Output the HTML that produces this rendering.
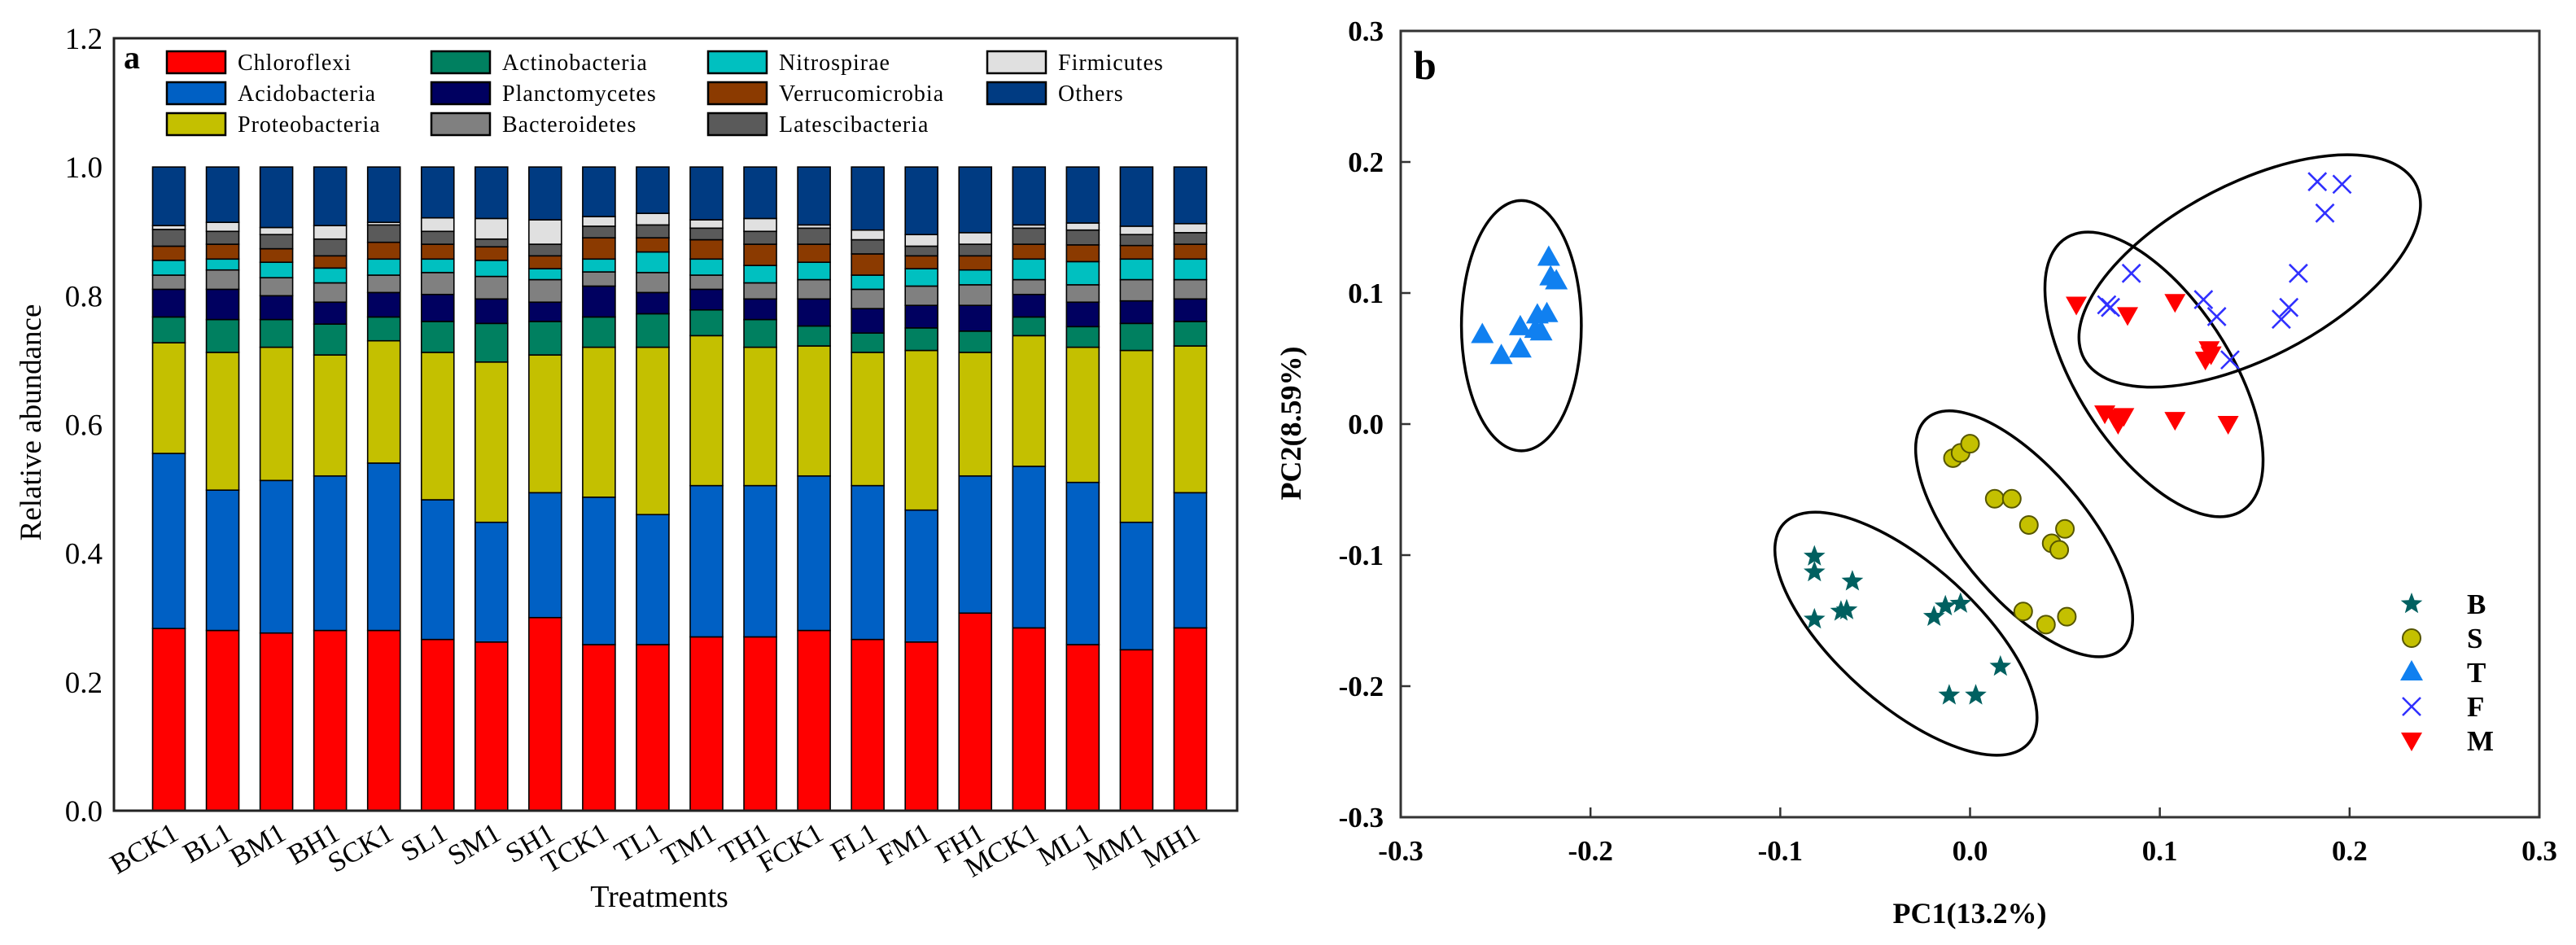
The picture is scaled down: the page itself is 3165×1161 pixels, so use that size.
<!DOCTYPE html>
<html><head><meta charset="utf-8"><style>
body{margin:0;background:#fff}
svg{display:block}
text{font-family:"Liberation Serif",serif}
</style></head><body>
<svg id="fig" width="3165" height="1161" viewBox="0 0 3165 1161" xmlns="http://www.w3.org/2000/svg">
<g id="chartA"></g>
<g id="chartB"></g>
</svg>
<script>
const NS="http://www.w3.org/2000/svg";
function mk(tag,attrs,parent){const e=document.createElementNS(NS,tag);for(const k in attrs)e.setAttribute(k,attrs[k]);parent.appendChild(e);return e;}

// ---------- Chart A data ----------
const treatments=["BCK1","BL1","BM1","BH1","SCK1","SL1","SM1","SH1","TCK1","TL1","TM1","TH1","FCK1","FL1","FM1","FH1","MCK1","ML1","MM1","MH1"];
const phyla=["Chloroflexi","Acidobacteria","Proteobacteria","Actinobacteria","Planctomycetes","Bacteroidetes","Nitrospirae","Verrucomicrobia","Latescibacteria","Firmicutes","Others"];
const phylaColors=["#ff0000","#0060c4","#c4c000","#008060","#000060","#808080","#00c0c0","#8b3a00","#5a5a5a","#e0e0e0","#003b82"];
const chloroflexi=[.283,.28,.276,.28,.28,.266,.262,.30,.258,.258,.27,.27,.28,.266,.262,.307,.284,.258,.25,.284];
const acidobacteria=[.272,.218,.237,.24,.26,.217,.186,.194,.229,.202,.235,.235,.24,.239,.205,.213,.251,.252,.198,.21];
const proteobacteria=[.172,.214,.207,.188,.19,.229,.249,.214,.233,.26,.233,.215,.202,.207,.248,.192,.203,.21,.267,.228];
const actinobacteria=[.040,.051,.043,.048,.037,.048,.06,.052,.047,.052,.04,.043,.031,.03,.035,.033,.029,.032,.042,.038];
const planctomycetes=[.043,.047,.037,.034,.038,.042,.038,.03,.048,.033,.032,.032,.042,.038,.035,.04,.035,.038,.035,.035];
const bacteroidetes=[.022,.03,.028,.03,.027,.034,.035,.035,.022,.031,.022,.025,.03,.03,.03,.032,.023,.027,.033,.03];
const nitrospirae=[.023,.017,.024,.023,.025,.021,.025,.017,.02,.032,.025,.027,.027,.022,.027,.023,.032,.036,.032,.032];
const verrucomicrobia=[.022,.023,.021,.019,.026,.023,.021,.02,.033,.022,.03,.033,.028,.033,.02,.022,.023,.026,.021,.023];
const latescibacteria=[.026,.02,.022,.026,.027,.02,.012,.018,.018,.02,.018,.02,.025,.022,.015,.018,.025,.023,.017,.018];
const firmicutes=[.006,.014,.011,.021,.004,.021,.032,.038,.015,.018,.013,.02,.005,.015,.018,.018,.005,.011,.013,.014];
const others=[.091,.086,.094,.091,.086,.079,.08,.082,.077,.072,.082,.08,.09,.098,.105,.102,.09,.087,.092,.088];
const seriesA=[chloroflexi,acidobacteria,proteobacteria,actinobacteria,planctomycetes,bacteroidetes,nitrospirae,verrucomicrobia,latescibacteria,firmicutes,others];
const yTicksA=["0.0","0.2","0.4","0.6","0.8","1.0","1.2"];
const yTickValsA=[0,0.2,0.4,0.6,0.8,1.0,1.2];

// ---------- Chart B data ----------
const groupNames=["B","S","T","F","M"];
const bX=[-0.082,-0.082,-0.062,-0.082,-0.068,-0.065,-0.019,-0.013,-0.005,0.016,-0.011,0.003];
const bY=[-0.101,-0.113,-0.120,-0.149,-0.143,-0.142,-0.147,-0.139,-0.137,-0.185,-0.207,-0.207];
const sX=[-0.009,-0.005,0.0,0.013,0.022,0.031,0.05,0.043,0.047,0.028,0.04,0.051];
const sY=[-0.026,-0.022,-0.015,-0.057,-0.057,-0.077,-0.080,-0.091,-0.096,-0.143,-0.153,-0.147];
const tX=[-0.257,-0.247,-0.237,-0.237,-0.229,-0.228,-0.223,-0.222,-0.221,-0.218,-0.226];
const tY=[0.068,0.052,0.057,0.074,0.072,0.083,0.084,0.127,0.112,0.109,0.070];
const fX=[0.183,0.196,0.187,0.085,0.173,0.072,0.074,0.123,0.130,0.164,0.168,0.137];
const fY=[0.185,0.183,0.161,0.115,0.115,0.091,0.089,0.095,0.082,0.080,0.089,0.049];
const mX=[0.056,0.083,0.108,0.126,0.124,0.127,0.071,0.076,0.081,0.078,0.108,0.136];
const mY=[0.091,0.083,0.093,0.057,0.049,0.053,0.008,0.005,0.006,0.000,0.003,0.000];
const pcTicks=["-0.3","-0.2","-0.1","0.0","0.1","0.2","0.3"];
const pcTickVals=[-0.3,-0.2,-0.1,0,0.1,0.2,0.3];

// ---------- Chart A drawing ----------
(function(){
const g=document.getElementById('chartA');
const L=140,R=1520,T=47,B=996;
const yA=v=>B-v/1.2*(B-T);
const x0=207.5,step=66.05,bw=40;
const xA=i=>x0+i*step;
// bars
seriesA.forEach((s,si)=>{
  const sg=mk('g',{},g);
  
  
  s.forEach((v,i)=>{
    let base=0;for(let k=0;k<si;k++)base+=seriesA[k][i];
    const y1=yA(base+v),y0=yA(base);
    const r=mk('rect',{x:xA(i)-bw/2,y:y1,width:bw,height:Math.max(0,y0-y1),fill:phylaColors[si],stroke:'#000','stroke-width':1.6},sg);
    
    
  });
});
const fr=mk('rect',{x:L,y:T,width:R-L,height:B-T,fill:'none',stroke:'#222','stroke-width':3},g);


yTickValsA.forEach((v,i)=>{
  const t=mk('text',{x:L-14,y:yA(v)+13,'text-anchor':'end','font-size':37},g);
  t.textContent=yTicksA[i];
  
  
});
treatments.forEach((n,i)=>{
  const x=xA(i)+14,y=1030;
  const t=mk('text',{x:x,y:y,'text-anchor':'end','font-size':35,transform:`rotate(-30 ${x} ${y})`},g);
  t.textContent=n;
  
  
});
const xt=mk('text',{x:810,y:1114,'text-anchor':'middle','font-size':38},g);
xt.textContent='Treatments';


const yt=mk('text',{x:50,y:519,'text-anchor':'middle','font-size':37,transform:'rotate(-90 50 519)'},g);
yt.textContent='Relative abundance';


const pl=mk('text',{x:152,y:84,'font-size':40,'font-weight':'bold'},g);
pl.textContent='a';


// legend
const cols=[205,530,870,1213],rows=[63,101,139];
const order=[[0,0],[1,0],[2,0],[0,1],[1,1],[2,1],[0,2],[1,2],[2,2],[0,3],[1,3]];
const lg=mk('g',{},g);


order.forEach((rc,si)=>{
  const e=mk('g',{},lg);
  
  
  const x=cols[rc[1]],y=rows[rc[0]];
  mk('rect',{x:x,y:y,width:72,height:27,fill:phylaColors[si],stroke:'#000','stroke-width':2.5},e);
  const t=mk('text',{x:x+87,y:y+23,'font-size':28,'letter-spacing':1},e);
  t.textContent=phyla[si];
});
})();

// ---------- Chart B drawing ----------
(function(){
const g=document.getElementById('chartB');
const L=1721,R=3120,T=38,B=1004;
const xB=v=>L+(v+0.3)/0.6*(R-L);
const yB=v=>B-(v+0.3)/0.6*(B-T);
// ellipses (pixel geometry measured in a helper frame)
const eg=mk('g',{transform:'matrix(1.0227 0 0 0.7391 1560.4 2.5)'},g);


[[302,538,72,208,0,'T'],[764,1050,237,97,55,'B'],[906,884,227,85,62,'S'],[1062,619,252,98,68,'M'],[1177,447,250,130,-42,'F']].forEach(p=>{
  const e=mk('ellipse',{cx:0,cy:0,rx:p[2],ry:p[3],transform:`translate(${p[0]} ${p[1]}) rotate(${p[4]})`,fill:'none',stroke:'#000','stroke-width':3.5,'vector-effect':'non-scaling-stroke'},eg);
  
  
});
function star(x,y,r,par,col){
  let pts=[];for(let k=0;k<10;k++){const a=-Math.PI/2+k*Math.PI/5;const rr=k%2?r*0.42:r;pts.push((x+rr*Math.cos(a)).toFixed(1)+','+(y+rr*Math.sin(a)).toFixed(1));}
  return mk('polygon',{points:pts.join(' '),fill:col},par);
}
function marker(type,x,y,par){
  if(type==='B')return star(x,y,14,par,'#006060');
  if(type==='S')return mk('circle',{cx:x,cy:y,r:11,fill:'#c4c000',stroke:'#555500','stroke-width':2},par);
  if(type==='T')return mk('polygon',{points:`${x},${y-15} ${x-14},${y+10} ${x+14},${y+10}`,fill:'#1080f0'},par);
  if(type==='F'){const gg=mk('g',{stroke:'#3030ff','stroke-width':2.6},par);mk('line',{x1:x-11,y1:y-11,x2:x+11,y2:y+11},gg);mk('line',{x1:x-11,y1:y+11,x2:x+11,y2:y-11},gg);return gg;}
  return mk('polygon',{points:`${x},${y+13} ${x-13},${y-10} ${x+13},${y-10}`,fill:'#ff0000'},par);
}
const groups=[[bX,bY],[sX,sY],[tX,tY],[fX,fY],[mX,mY]];
groups.forEach((gr,gi)=>{
  const sg=mk('g',{},g);
  
  
  gr[0].forEach((v,i)=>{
    const m=marker(groupNames[gi],xB(v),yB(gr[1][i]),sg);
    
    
  });
});
const fr=mk('rect',{x:L,y:T,width:R-L,height:B-T,fill:'none',stroke:'#333','stroke-width':3},g);


pcTickVals.forEach((v,i)=>{
  if(i>0&&i<6){
    mk('line',{x1:xB(v),y1:B,x2:xB(v),y2:B-12,stroke:'#333','stroke-width':2.5},g);
    mk('line',{x1:L,y1:yB(v),x2:L+12,y2:yB(v),stroke:'#333','stroke-width':2.5},g);
  }
  const tx=mk('text',{x:xB(v),y:1057,'text-anchor':'middle','font-size':35,'font-weight':'bold'},g);
  tx.textContent=pcTicks[i];
  
  
  const ty=mk('text',{x:1700,y:yB(v)+12,'text-anchor':'end','font-size':35,'font-weight':'bold'},g);
  ty.textContent=pcTicks[i];
  
  
});
const xt=mk('text',{x:2420,y:1134,'text-anchor':'middle','font-size':36,'font-weight':'bold'},g);
xt.textContent='PC1(13.2%)';


const yt=mk('text',{x:1598,y:520,'text-anchor':'middle','font-size':36,'font-weight':'bold',transform:'rotate(-90 1598 520)'},g);
yt.textContent='PC2(8.59%)';


const pl=mk('text',{x:1737,y:97,'font-size':50,'font-weight':'bold'},g);
pl.textContent='b';


const lg=mk('g',{},g);


const ly=[742,784,826,868,910];
groupNames.forEach((n,i)=>{
  const e=mk('g',{},lg);
  
  
  marker(n,2963,ly[i],e);
  const t=mk('text',{x:3031,y:ly[i]+12,'font-size':35,'font-weight':'bold'},e);
  t.textContent=n;
});
})();
</script>
</body></html>
